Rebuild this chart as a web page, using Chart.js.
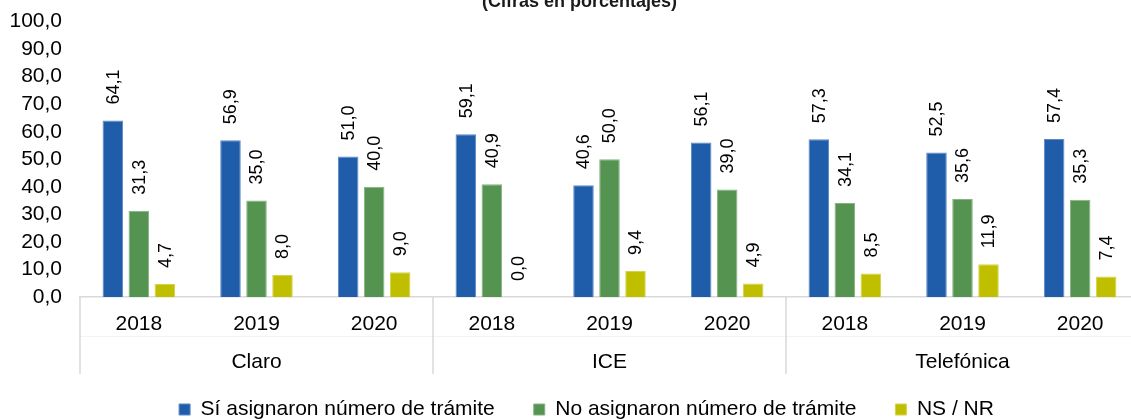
<!DOCTYPE html>
<html lang="es">
<head>
<meta charset="utf-8">
<title>Asignación de número de trámite</title>
<script src="https://cdn.jsdelivr.net/npm/chart.js@4.4.1/dist/chart.umd.min.js"></script>
<style>
    html, body { margin: 0; padding: 0; background: #fff; overflow: hidden; }
    #wrap { width: 1140px; height: 419px; position: relative; }
</style>
</head>
<body>
<div id="wrap"><canvas id="chart" width="1140" height="419"></canvas></div>
<script>
// --- Données ---
const operators = ['Claro', 'ICE', 'Telefónica'];
const years = ['2018', '2019', '2020'];
const seriesNames = ['Sí asignaron número de trámite', 'No asignaron número de trámite', 'NS / NR'];
const siValues = [64.1, 56.9, 51.0, 59.1, 40.6, 56.1, 57.3, 52.5, 57.4];
const noValues = [31.3, 35.0, 40.0, 40.9, 50.0, 39.0, 34.1, 35.6, 35.3];
const nsValues = [4.7, 8.0, 9.0, 0.0, 9.4, 4.9, 8.5, 11.9, 7.4];
const yTicks = [0, 10, 20, 30, 40, 50, 60, 70, 80, 90, 100];

const FONT = "'Liberation Sans', Arial, sans-serif";
const fmt = (v) => v.toFixed(1).replace('.', ',');

// étiquettes de catégories (années répétées par opérateur)
const labels = [];
operators.forEach(() => years.forEach(y => labels.push(y)));

// --- Plugins maison ---
// étiquettes de valeurs, tournées de 90°
const valueLabels = {
    id: 'valueLabels',
    afterDatasetsDraw(chart) {
        const ctx = chart.ctx;
        ctx.save();
        ctx.font = '18px ' + FONT;
        ctx.fillStyle = '#000';
        ctx.textAlign = 'left';
        ctx.textBaseline = 'middle';
        chart.data.datasets.forEach((ds, i) => {
            chart.getDatasetMeta(i).data.forEach((bar, j) => {
                ctx.save();
                ctx.translate(bar.x + 1, bar.y - 16);
                ctx.rotate(-Math.PI / 2);
                ctx.fillText(fmt(ds.data[j]), 0, 0);
                ctx.restore();
            });
        });
        ctx.restore();
    }
};

// deuxième niveau de l'axe X : opérateurs + séparateurs
const groupAxis = {
    id: 'groupAxis',
    afterDraw(chart) {
        const ctx = chart.ctx;
        const x = chart.scales.x;
        const area = chart.chartArea;
        const n = years.length;
        const half = (x.getPixelForValue(1) - x.getPixelForValue(0)) / 2;
        ctx.save();
        // ligne très pâle entre les deux niveaux
        ctx.strokeStyle = '#f3f3f3';
        ctx.lineWidth = 1;
        ctx.beginPath();
        ctx.moveTo(area.left, 336.5);
        ctx.lineTo(area.right, 336.5);
        ctx.stroke();

        ctx.strokeStyle = '#d9d9d9';
        ctx.lineWidth = 1.5;
        for (let g = 0; g <= operators.length; g++) {
            const px = x.getPixelForValue(g * n) - half;
            ctx.beginPath();
            ctx.moveTo(px, area.bottom);
            ctx.lineTo(px, 374);
            ctx.stroke();
        }
        ctx.font = '21px ' + FONT;
        ctx.fillStyle = '#000';
        ctx.textAlign = 'center';
        ctx.textBaseline = 'middle';
        operators.forEach((op, g) => {
            const cx = (x.getPixelForValue(g * n) + x.getPixelForValue(g * n + n - 1)) / 2;
            ctx.fillText(op, cx, 362);
        });
        ctx.restore();
    }
};

// décalage du titre (coupé en haut) et de la légende
const shiftBoxes = {
    id: 'shiftBoxes',
    afterLayout(chart) {
        const lg = chart.legend;
        if (lg) { lg.left += 12; lg.right += 12; lg.top += 11; lg.bottom += 11; }
        const t = chart.titleBlock;
        if (t) { t.left += 5; t.right += 5; t.top -= 9; t.bottom -= 9; }
    }
};

document.addEventListener('DOMContentLoaded', () => {
    const colors = ['#1f5caa', '#559450', '#bfbf00'];
    const borders = ['#5d87c7', '#86b382', '#d4d44a'];
    const values = [siValues, noValues, nsValues];

    new Chart(document.getElementById('chart'), {
        type: 'bar',
        data: {
            labels: labels,
            datasets: seriesNames.map((name, i) => ({
                label: name,
                data: values[i],
                backgroundColor: colors[i],
                borderColor: borders[i],
                borderWidth: 1,
                categoryPercentage: 0.663,
                barPercentage: 0.79
            }))
        },
        options: {
            responsive: false,
            animation: false,
            devicePixelRatio: 1,
            layout: { padding: { left: 10, right: 1, top: 0, bottom: 0 } },
            plugins: {
                title: {
                    display: true,
                    text: '(Cifras en porcentajes)',
                    color: '#1a1a1a',
                    font: { family: FONT, size: 18, weight: 'bold' },
                    padding: { top: 0, bottom: 0 }
                },
                legend: {
                    position: 'bottom',
                    labels: {
                        color: '#000',
                        font: { family: FONT, size: 21 },
                        boxWidth: 11,
                        boxHeight: 11,
                        padding: 39
                    }
                },
                tooltip: { enabled: false }
            },
            scales: {
                x: {
                    offset: true,
                    grid: { display: false, drawTicks: false },
                    border: { display: true, color: '#d9d9d9', width: 1.5 },
                    ticks: {
                        color: '#000',
                        font: { family: FONT, size: 21 },
                        padding: 15,
                        maxRotation: 0,
                        autoSkip: false
                    },
                    afterFit(scale) { scale.height = 52; }
                },
                y: {
                    min: 0,
                    max: 100,
                    grid: { display: false, drawTicks: false },
                    border: { display: false },
                    afterBuildTicks(scale) { scale.ticks = yTicks.map(v => ({ value: v })); },
                    ticks: {
                        color: '#000',
                        font: { family: FONT, size: 21 },
                        padding: 18,
                        autoSkip: false,
                        callback: (v) => fmt(v)
                    },
                    afterFit(scale) {
                        scale.width = 70;
                        scale.paddingTop = 8;
                        scale.paddingBottom = 8;
                    }
                }
            }
        },
        plugins: [valueLabels, groupAxis, shiftBoxes]
    });
});
</script>
</body>
</html>
